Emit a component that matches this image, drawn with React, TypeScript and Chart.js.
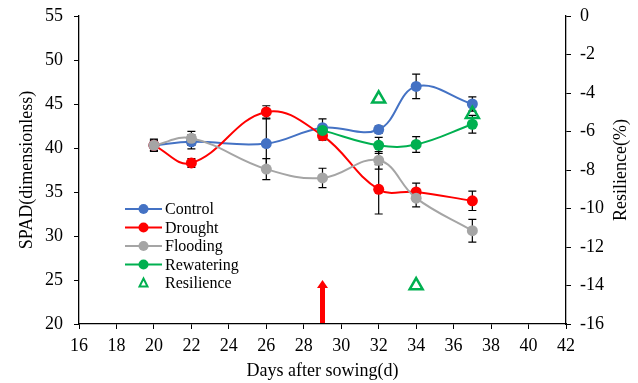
import React, { useEffect, useRef } from "react";
import { Chart, registerables } from "chart.js";

Chart.register(...registerables);

const days = [20, 22, 26, 29, 32, 34, 37];
const rewDays = [29, 32, 34, 37];
const resDays = [32, 34, 37];

const control = [40.3, 40.7, 40.5, 42.3, 42.1, 47.0, 45.0];
const controlErr = [0.6, 0.8, 2.8, 1.0, 0.4, 1.4, 0.8];
const drought = [40.3, 38.3, 44.1, 41.4, 35.3, 35.0, 34.0];
const droughtErr = [0.6, 0.5, 0.7, 0.5, 2.8, 1.0, 1.1];
const flooding = [40.3, 41.1, 37.6, 36.6, 38.6, 34.3, 30.6];
const floodingErr = [0.7, 0.8, 1.2, 1.1, 1.0, 1.0, 1.3];
const rewatering = [42.0, 40.3, 40.4, 42.7];
const rewateringErr = [0.4, 0.9, 0.9, 1.0];
const resilience = [-4.3, -14.0, -5.1];

const arrowDay = 29;
const arrowTop = 25;

const seriesNames = ["Control", "Drought", "Flooding", "Rewatering", "Resilience"];
const colors = ["#4472C4", "#FF0000", "#A5A5A5", "#00B050", "#00B050"];

const FONT = "'Liberation Serif', 'Times New Roman', serif";

const pts = (xs: number[], ys: number[]) => xs.map((x, i) => ({ x, y: ys[i] }));

const errorBarPlugin = {
  id: "errorBars",
  beforeDatasetsDraw(chart: any) {
    const ctx = chart.ctx;
    const ys = chart.scales.y;
    ctx.save();
    ctx.strokeStyle = "#000";
    ctx.lineWidth = 1.2;
    chart.data.datasets.forEach((ds: any, di: number) => {
      if (!ds.err) return;
      const meta = chart.getDatasetMeta(di);
      meta.data.forEach((el: any, i: number) => {
        const v = ds.data[i].y;
        const e = ds.err[i];
        const x = el.x;
        const y1 = ys.getPixelForValue(v + e);
        const y2 = ys.getPixelForValue(v - e);
        ctx.beginPath();
        ctx.moveTo(x, y1);
        ctx.lineTo(x, y2);
        ctx.moveTo(x - 4, y1);
        ctx.lineTo(x + 4, y1);
        ctx.moveTo(x - 4, y2);
        ctx.lineTo(x + 4, y2);
        ctx.stroke();
      });
    });
    ctx.restore();
  },
};

const decorPlugin = {
  id: "decor",
  afterDraw(chart: any) {
    const ctx = chart.ctx;
    const xs = chart.scales.x;
    const ys = chart.scales.y;
    const area = chart.chartArea;
    ctx.save();
    // arrow
    const ax = xs.getPixelForValue(arrowDay);
    const at = ys.getPixelForValue(arrowTop);
    const ab = area.bottom - 1;
    ctx.fillStyle = "#FF0000";
    ctx.fillRect(ax - 2.5, at + 7, 5, ab - at - 7);
    ctx.beginPath();
    ctx.moveTo(ax, at);
    ctx.lineTo(ax + 5.5, at + 8);
    ctx.lineTo(ax - 5.5, at + 8);
    ctx.closePath();
    ctx.fill();

    // legend
    ctx.font = `16px ${FONT}`;
    ctx.textBaseline = "middle";
    ctx.textAlign = "left";
    seriesNames.forEach((name, i) => {
      const y = 209 + i * 18.5;
      const c = colors[i];
      if (i < 4) {
        ctx.strokeStyle = c;
        ctx.lineWidth = 2;
        ctx.beginPath();
        ctx.moveTo(125, y);
        ctx.lineTo(162, y);
        ctx.stroke();
        ctx.fillStyle = c;
        ctx.beginPath();
        ctx.arc(143.5, y, 5, 0, Math.PI * 2);
        ctx.fill();
      } else {
        ctx.strokeStyle = c;
        ctx.lineWidth = 2;
        ctx.beginPath();
        ctx.moveTo(143.5, y - 4.5);
        ctx.lineTo(147.5, y + 3.5);
        ctx.lineTo(139.5, y + 3.5);
        ctx.closePath();
        ctx.stroke();
      }
      ctx.fillStyle = "#000";
      ctx.fillText(name, 165, y + 1);
    });

    // axis titles
    ctx.fillStyle = "#000";
    ctx.font = `18px ${FONT}`;
    ctx.textAlign = "center";
    ctx.textBaseline = "middle";
    ctx.fillText("Days after sowing(d)", (area.left + area.right) / 2, 371);
    const midY = (area.top + area.bottom) / 2;
    ctx.save();
    ctx.translate(27, midY);
    ctx.rotate(-Math.PI / 2);
    ctx.fillText("SPAD(dimensionless)", 0, 0);
    ctx.restore();
    ctx.save();
    ctx.translate(621, midY);
    ctx.rotate(-Math.PI / 2);
    ctx.fillText("Resilience(%)", 0, 0);
    ctx.restore();
    ctx.restore();
  },
};

export default function App() {
  const ref = useRef<HTMLCanvasElement>(null);
  useEffect(() => {
    document.body.style.margin = "0";
    const line = (label: string, data: any, err: number[], color: string, order: number) => ({
      label,
      data,
      err,
      borderColor: color,
      backgroundColor: color,
      borderWidth: 2,
      pointRadius: 5.5,
      pointBorderWidth: 0,
      pointBackgroundColor: color,
      tension: 0.4,
      yAxisID: "y",
      order,
    });
    const tickFont = { family: FONT, size: 18, lineHeight: 1 };
    const fitV = (w: number) => (s: any) => {
      s.width = w;
      s.paddingTop = 0;
      s.paddingBottom = 0;
    };
    const chart = new Chart(ref.current!, {
      type: "line",
      data: {
        datasets: [
          line("Control", pts(days, control), controlErr, colors[0], 4),
          line("Drought", pts(days, drought), droughtErr, colors[1], 3),
          line("Flooding", pts(days, flooding), floodingErr, colors[2], 2),
          line("Rewatering", pts(rewDays, rewatering), rewateringErr, colors[3], 1),
          {
            label: "Resilience",
            data: pts(resDays, resilience),
            showLine: false,
            pointStyle: "triangle",
            pointRadius: 7.5,
            pointBorderWidth: 2.5,
            pointBorderColor: colors[4],
            pointBackgroundColor: "rgba(255,255,255,0)",
            borderColor: colors[4],
            yAxisID: "y1",
            order: 0,
          } as any,
        ],
      },
      options: {
        animation: false,
        responsive: false,
        maintainAspectRatio: false,
        layout: { padding: { top: 16, bottom: 0, left: 0, right: 0 } },
        plugins: { legend: { display: false }, tooltip: { enabled: false } },
        scales: {
          x: {
            type: "linear",
            min: 16,
            max: 42,
            ticks: { stepSize: 2, color: "#000", font: tickFont, padding: 8 },
            grid: { drawOnChartArea: false, drawTicks: true, tickLength: 5, color: "#000" },
            border: { display: true, color: "#000", width: 1.3 },
            afterFit: (s: any) => {
              s.height = 59;
              s.paddingLeft = 0;
              s.paddingRight = 0;
            },
          },
          y: {
            position: "left",
            min: 20,
            max: 55,
            ticks: { stepSize: 5, color: "#000", font: tickFont, padding: 11 },
            grid: { drawOnChartArea: false, drawTicks: true, tickLength: 5, color: "#000" },
            border: { display: true, color: "#000", width: 1.3 },
            afterFit: fitV(79),
          },
          y1: {
            position: "right",
            min: -16,
            max: 0,
            ticks: { stepSize: 2, color: "#000", font: tickFont, padding: 9 },
            grid: { drawOnChartArea: false, drawTicks: true, tickLength: 5, color: "#000" },
            border: { display: true, color: "#000", width: 1.3 },
            afterFit: fitV(72),
          },
        },
      } as any,
      plugins: [errorBarPlugin, decorPlugin],
    });
    return () => chart.destroy();
  }, []);
  return (
    <div style={{ width: 638, height: 383 }}>
      <canvas ref={ref} width={638} height={383} style={{ display: "block" }} />
    </div>
  );
}
